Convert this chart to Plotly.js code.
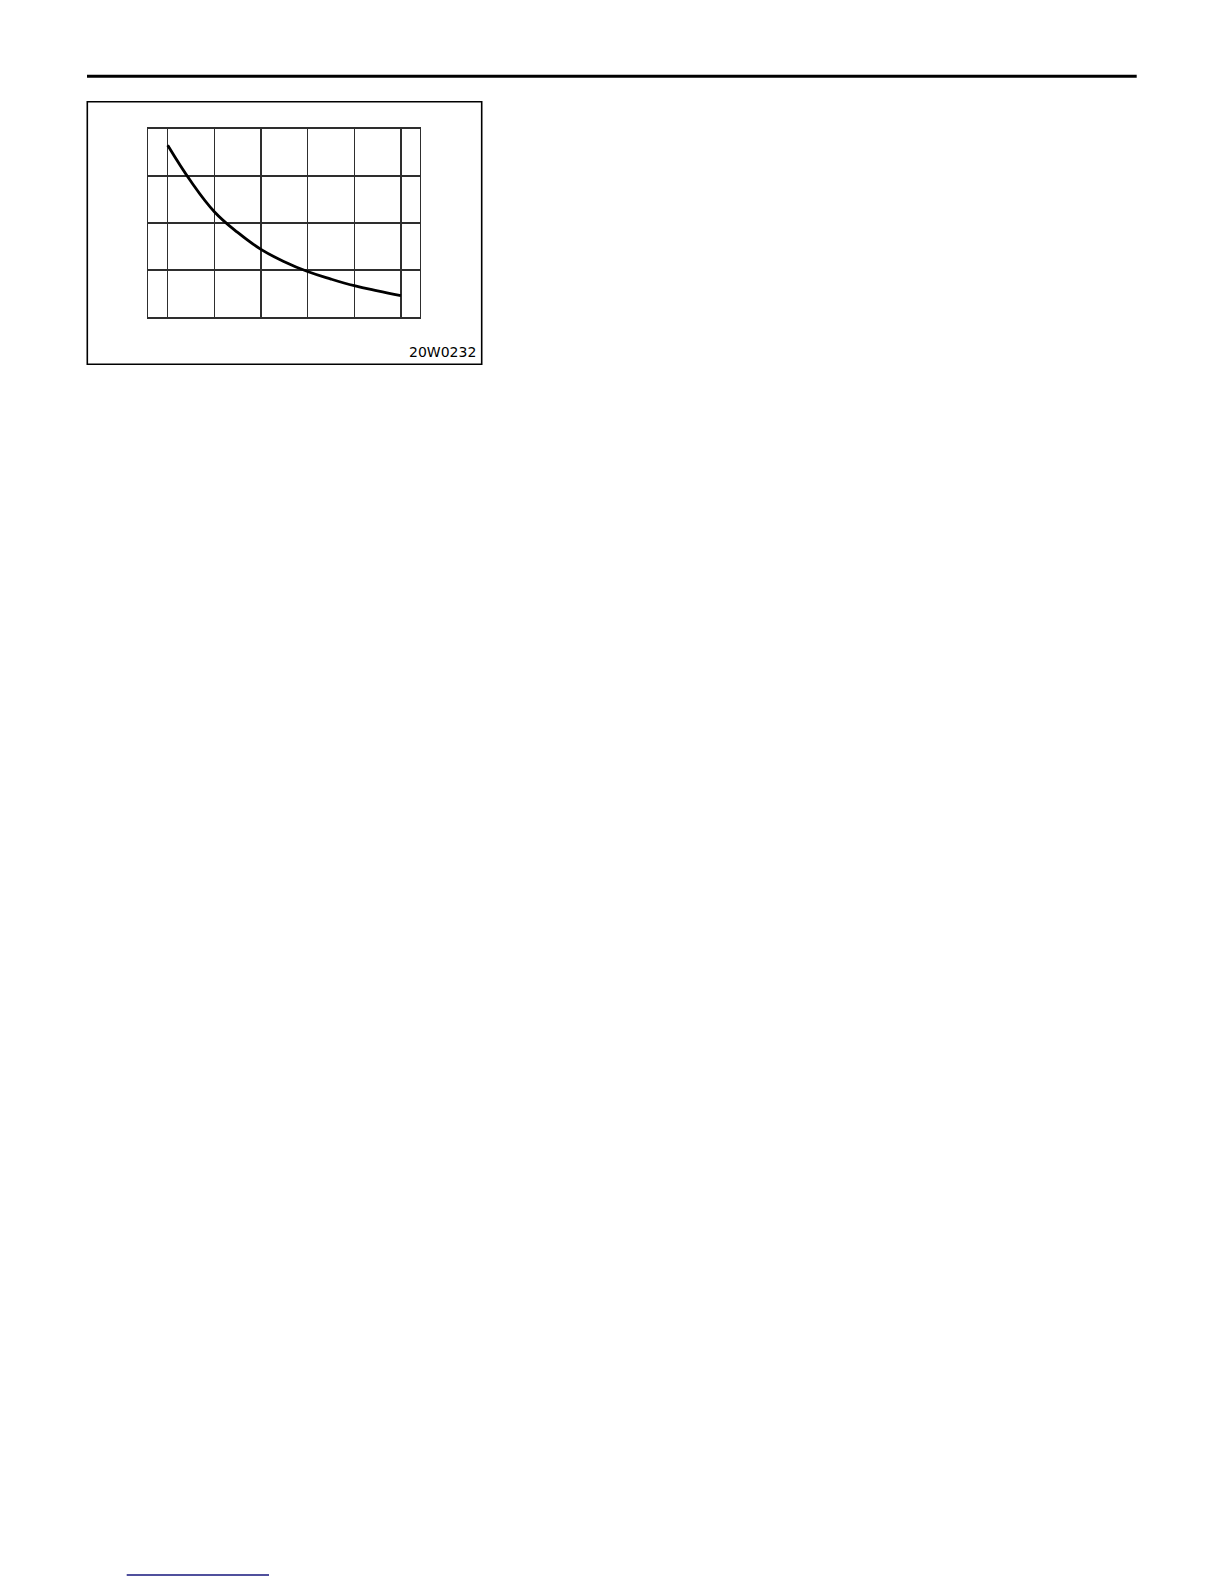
<!DOCTYPE html>
<html>
<head>
<meta charset="utf-8">
<script src="https://cdn.plot.ly/plotly-3.0.1.min.js"></script>
<style>
  html, body { margin: 0; padding: 0; background: #fff; }
  #chart { width: 1224px; height: 1584px; }
</style>
</head>
<body>
<div id="chart"></div>
<script>
  // curve (x = vertical grid line index, y = horizontal line index)
  const xVals = [0, 0.5, 1, 1.5, 2, 2.5, 3, 3.5, 4, 4.5, 5];
  const yVals = [3.65, 2.88, 2.24, 1.80, 1.44, 1.18, 0.97, 0.81, 0.67, 0.56, 0.46];
  const figureCode = '20W0232';

  const W = 1224, H = 1584;
  const px = (x) => x / W;
  const py = (y) => 1 - y / H;

  const gridColor = '#2e2e2e';

  const traces = [{
    x: xVals,
    y: yVals,
    type: 'scatter',
    mode: 'lines',
    line: {color: '#000', width: 2.8, shape: 'spline', smoothing: 1.2},
    hoverinfo: 'skip',
    showlegend: false
  }];

  const axisCommon = {
    tickmode: 'linear',
    tick0: 0,
    dtick: 1,
    showgrid: true,
    gridcolor: gridColor,
    gridwidth: 1.3,
    showticklabels: false,
    ticks: '',
    zeroline: false,
    showline: true,
    mirror: true,
    linecolor: gridColor,
    linewidth: 1.3,
    fixedrange: true
  };

  const layout = {
    width: W,
    height: H,
    margin: {l: 0, r: 0, t: 0, b: 0},
    paper_bgcolor: '#fff',
    plot_bgcolor: '#fff',
    showlegend: false,
    xaxis: Object.assign({}, axisCommon, {
      domain: [px(148.3), px(420)],
      range: [-0.416, 5.41]
    }),
    yaxis: Object.assign({}, axisCommon, {
      domain: [py(317.3), py(128.7)],
      range: [0, 4]
    }),
    shapes: [
      // page header rule
      {type: 'line', xref: 'paper', yref: 'paper',
       x0: px(87), x1: px(1136.7), y0: py(76.2), y1: py(76.2),
       line: {color: '#000', width: 3}},
      // figure frame
      {type: 'rect', xref: 'paper', yref: 'paper',
       x0: px(87.3), x1: px(481.7), y0: py(364.3), y1: py(101.7),
       line: {color: '#000', width: 1.6}},
      // link underline at page bottom
      {type: 'line', xref: 'paper', yref: 'paper',
       x0: px(126.7), x1: px(269), y0: py(1575), y1: py(1575),
       line: {color: '#16167c', width: 1.6}}
    ],
    annotations: [{
      xref: 'paper', yref: 'paper',
      x: px(478), y: py(352),
      xanchor: 'right', yanchor: 'middle',
      text: figureCode,
      showarrow: false,
      font: {family: 'DejaVu Sans, sans-serif', size: 14, color: '#000'}
    }]
  };

  Plotly.newPlot('chart', traces, layout, {displayModeBar: false, staticPlot: true});
</script>
</body>
</html>
